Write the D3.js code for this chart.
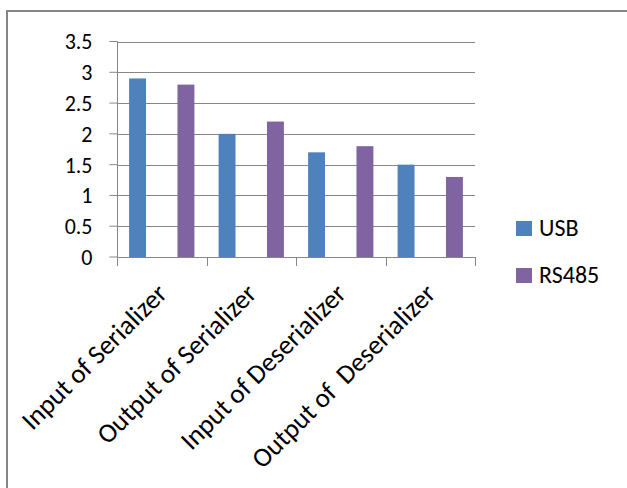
<!DOCTYPE html>
<html>
<head>
<meta charset="utf-8">
<script src="https://cdn.jsdelivr.net/npm/d3@7"></script>
<style>
  html, body { margin: 0; padding: 0; background: #fff; }
  svg text { font-family: Carlito, Calibri, Lato, sans-serif; fill: #000; white-space: pre; }
</style>
</head>
<body>
<div id="chart"></div>
<script>
// chart data
const categories = ["Input of Serializer", "Output of Serializer", "Input of Deserializer", "Output of  Deserializer"];
const seriesNames = ["USB", "RS485"];
const usbValues = [2.9, 2.0, 1.7, 1.5];
const rs485Values = [2.8, 2.2, 1.8, 1.3];
const yTicks = [0, 0.5, 1, 1.5, 2, 2.5, 3, 3.5];

const colors = ["#4f81bd", "#8064a2"];
const gridColor = "#868686";

const width = 627,
      height = 488,
      margin = {top: 41.5, left: 117, right: 152, bottom: 231};

const svg = d3.select("#chart")
  .append("svg")
  .attr("width", width)
  .attr("height", height);

// outer frame
svg.append("rect")
  .attr("x", 7)
  .attr("y", 11)
  .attr("width", 660)
  .attr("height", 520)
  .attr("fill", "none")
  .attr("stroke", gridColor)
  .attr("stroke-width", 2);

const rows = categories.map((c, i) => ({category: c, values: [usbValues[i], rs485Values[i]]}));

const xScale = d3.scaleBand()
  .domain(categories)
  .range([margin.left, width - margin.right]);

const xInner = d3.scaleBand()
  .domain(seriesNames)
  .range([0, xScale.bandwidth()])
  .paddingInner(0.65)
  .paddingOuter(0.25);

const yScale = d3.scaleLinear()
  .domain([0, 3.5])
  .range([height - margin.bottom, margin.top]);

// gridlines
svg.append("g")
  .selectAll("line")
  .data(yTicks.filter(d => d > 0))
  .join("line")
  .attr("x1", margin.left)
  .attr("x2", width - margin.right)
  .attr("y1", d => Math.round(yScale(d)) + 0.5)
  .attr("y2", d => Math.round(yScale(d)) + 0.5)
  .attr("stroke", gridColor);

// y axis
const yAxis = svg.append("g")
  .attr("transform", `translate(${margin.left + 0.5},0)`)
  .call(d3.axisLeft(yScale).tickValues(yTicks).tickFormat(d3.format("~g")).tickSize(8).tickPadding(17).offset(0));
yAxis.select(".domain").attr("stroke", gridColor).attr("d", `M0,${yScale(3.5)}V${yScale(0)}`);
yAxis.selectAll(".tick line").attr("stroke", gridColor);
yAxis.selectAll(".tick text").style("font-size", "22px").attr("dy", "0.36em");

// x axis: ticks on band boundaries
const boundaries = categories.map(c => xScale(c)).concat([xScale.range()[1]]);
const xAxis = svg.append("g");
xAxis.append("line")
  .attr("x1", margin.left)
  .attr("x2", width - margin.right)
  .attr("y1", Math.round(yScale(0)) + 0.5)
  .attr("y2", Math.round(yScale(0)) + 0.5)
  .attr("stroke", gridColor);
xAxis.selectAll(".xt")
  .data(boundaries)
  .join("line")
  .attr("class", "xt")
  .attr("x1", d => Math.round(d) + 0.5)
  .attr("x2", d => Math.round(d) + 0.5)
  .attr("y1", yScale(0))
  .attr("y2", yScale(0) + 9)
  .attr("stroke", gridColor);

// rotated category labels
xAxis.selectAll(".xl")
  .data(categories)
  .join("text")
  .attr("class", "xl")
  .attr("transform", d => `translate(${xScale(d) + xScale.bandwidth() / 2 + 7},${yScale(0) + 38}) rotate(-45)`)
  .attr("text-anchor", "end")
  .style("font-size", "27px")
  .text(d => d);

// bars
const groups = svg.append("g")
  .selectAll("g")
  .data(rows)
  .join("g")
  .attr("transform", d => `translate(${xScale(d.category)},0)`);

groups.selectAll("rect")
  .data(d => d.values.map((v, i) => ({key: seriesNames[i], value: v, i: i})))
  .join("rect")
  .attr("x", d => xInner(d.key))
  .attr("width", xInner.bandwidth())
  .attr("y", d => yScale(d.value))
  .attr("height", d => yScale(0) - yScale(d.value))
  .attr("fill", d => colors[d.i]);

// legend
const legend = svg.selectAll(".legend")
  .data(seriesNames)
  .join("g")
  .attr("class", "legend")
  .attr("transform", (d, i) => `translate(516,${221 + i * 47})`);

legend.append("rect")
  .attr("width", 16)
  .attr("height", 15)
  .attr("fill", (d, i) => colors[i]);

legend.append("text")
  .attr("x", 23)
  .attr("y", 15)
  .style("font-size", "24px")
  .text(d => d);
</script>
</body>
</html>
